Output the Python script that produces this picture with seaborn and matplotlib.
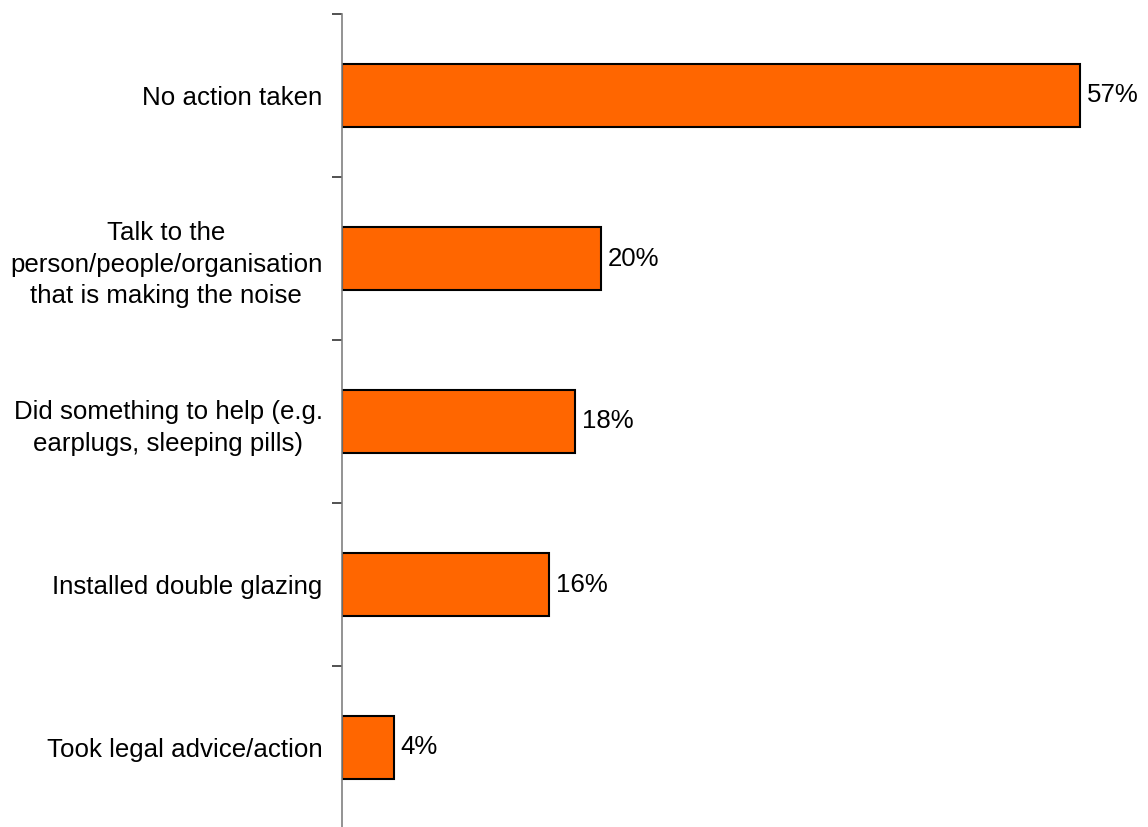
import matplotlib
matplotlib.use("Agg")
import matplotlib.pyplot as plt
import seaborn as sns
import pandas as pd
import numpy as np

categories = [
    "No action taken",
    "Talk to the\nperson/people/organisation\nthat is making the noise",
    "Did something to help (e.g.\nearplugs, sleeping pills)",
    "Installed double glazing",
    "Took legal advice/action",
]
values = [57, 20, 18, 16, 4]
value_labels = ["57%", "20%", "18%", "16%", "4%"]

sns.set_style("white", {"ytick.left": True})
plt.rcParams["font.family"] = ["Liberation Sans", "DejaVu Sans"]
plt.rcParams["text.color"] = "black"
plt.rcParams["ytick.color"] = "#333333"
plt.rcParams["ytick.labelcolor"] = "black"

df = pd.DataFrame({"cat": categories, "val": values})

fig = plt.figure(figsize=(11.48, 8.27), dpi=100)
ax_left = 342 / 1148
ax_right = 1148 / 1148
ax_top = 1 - 14 / 827
ax_bottom = 1 - 829 / 827
ax = fig.add_axes([ax_left, ax_bottom, ax_right - ax_left, ax_top - ax_bottom])

sns.barplot(data=df, x="val", y="cat", orient="h", color="#FF6600",
            saturation=1, width=0.385, edgecolor="black", linewidth=1.5, ax=ax)

xmax = (1148 - 342) / ((1080 - 342) / 57)
ax.set_xlim(0, xmax)
ax.set_ylim(len(categories) - 0.5, -0.5)

for spine in ["top", "right", "bottom"]:
    ax.spines[spine].set_visible(False)
ax.spines["left"].set_color("#808080")
ax.spines["left"].set_linewidth(1.2)

ax.set_xticks([])
ax.set_xlabel("")
ax.set_ylabel("")

ax.set_yticks(np.arange(len(categories)))
ax.set_yticklabels(categories, fontsize=18.6, multialignment="center",
                   linespacing=1.4, color="black")
ax.tick_params(axis="y", which="major", left=False, length=0, pad=14)
ax.set_yticks(np.arange(-0.5, len(categories), 1.0), minor=True)
ax.tick_params(axis="y", which="minor", left=True, length=7, width=1.2,
               color="#333333", direction="out")

for i, (v, lab) in enumerate(zip(values, value_labels)):
    ax.annotate(lab, xy=(v, i), xytext=(5, 0), textcoords="offset points",
                va="center", ha="left", fontsize=18.6, color="black",
                clip_on=False)

fig.savefig("out.png", dpi=100)
